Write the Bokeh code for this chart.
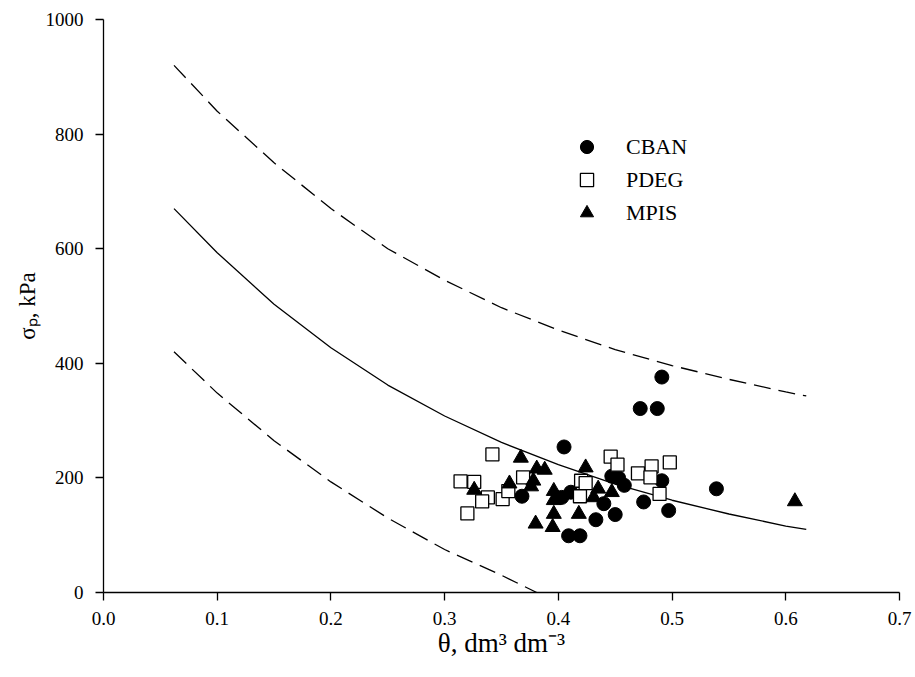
from bokeh.plotting import figure
from bokeh.models import Legend, LegendItem, NumeralTickFormatter, FixedTicker, Range1d
from bokeh.embed import file_html
from bokeh.resources import INLINE

# CBAN (filled circles)
cban_theta = [0.491, 0.472, 0.487, 0.405, 0.447, 0.453, 0.458, 0.491, 0.475, 0.497,
              0.411, 0.403, 0.440, 0.433, 0.450, 0.409, 0.419, 0.539, 0.368]
cban_sigma = [376, 321, 321, 254, 203, 200, 187, 195, 158, 143,
              175, 166, 155, 127, 136, 99, 99, 181, 168]

# PDEG (open squares)
pdeg_theta = [0.342, 0.314, 0.326, 0.338, 0.333, 0.320, 0.351, 0.356, 0.369,
              0.446, 0.452, 0.420, 0.424, 0.419, 0.470, 0.482, 0.481, 0.498, 0.489]
pdeg_sigma = [241, 194, 193, 166, 159, 138, 163, 177, 201,
              237, 223, 195, 191, 168, 208, 220, 201, 227, 172]

# MPIS (filled triangles)
mpis_theta = [0.326, 0.367, 0.357, 0.381, 0.388, 0.378, 0.376, 0.396, 0.396, 0.396,
              0.380, 0.395, 0.424, 0.418, 0.435, 0.431, 0.447, 0.608]
mpis_sigma = [179, 235, 190, 216, 214, 195, 185, 177, 161, 137,
              120, 114, 218, 137, 181, 166, 175, 159]

# fitted curve and bands
fit_theta = [0.062, 0.1, 0.15, 0.2, 0.25, 0.3, 0.35, 0.4, 0.45, 0.5, 0.55, 0.6, 0.618]
fit_sigma = [670, 593, 503, 427, 362, 308, 262, 223, 189, 161, 137, 116, 110]
upper_theta = [0.062, 0.1, 0.15, 0.2, 0.25, 0.3, 0.35, 0.4, 0.45, 0.5, 0.55, 0.6, 0.618]
upper_sigma = [920, 840, 750, 670, 600, 545, 497, 458, 424, 396, 372, 350, 343]
lower_theta = [0.062, 0.1, 0.15, 0.2, 0.25, 0.3, 0.35, 0.381]
lower_sigma = [420, 348, 265, 193, 130, 75, 30, 0]

x_ticks = [0.0, 0.1, 0.2, 0.3, 0.4, 0.5, 0.6, 0.7]
y_ticks = [0, 200, 400, 600, 800, 1000]

FONT = "Liberation Serif"

p = figure(width=915, height=677, output_backend="svg", toolbar_location=None,
           x_range=Range1d(0, 0.7), y_range=Range1d(0, 1000),
           min_border_left=103, min_border_right=16, min_border_top=19, min_border_bottom=85)
p.outline_line_color = None
p.xgrid.visible = False
p.ygrid.visible = False
p.background_fill_color = "white"
p.border_fill_color = "white"

for ax in (p.xaxis[0], p.yaxis[0]):
    ax.axis_line_color = "black"
    ax.axis_line_width = 1.3
    ax.major_tick_line_color = "black"
    ax.major_tick_line_width = 1.3
    ax.major_tick_out = 8
    ax.major_tick_in = 0
    ax.minor_tick_line_color = None
    ax.major_label_text_font = FONT
    ax.major_label_text_font_size = "19px"
    ax.major_label_text_color = "black"
    ax.axis_label_text_font = FONT
    ax.axis_label_text_font_style = "normal"
    ax.axis_label_text_color = "black"

p.xaxis[0].ticker = FixedTicker(ticks=x_ticks)
p.xaxis[0].formatter = NumeralTickFormatter(format="0.0")
p.xaxis[0].major_label_standoff = 11
p.xaxis[0].axis_label = "θ, dm³ dm⁻³"
p.xaxis[0].axis_label_text_font_size = "27px"
p.xaxis[0].axis_label_standoff = 0
p.yaxis[0].ticker = FixedTicker(ticks=y_ticks)
p.yaxis[0].formatter = NumeralTickFormatter(format="0")
p.yaxis[0].major_label_standoff = 12
p.yaxis[0].axis_label = "σₚ, kPa"
p.yaxis[0].axis_label_text_font_size = "23px"
p.yaxis[0].axis_label_standoff = 3

p.line(fit_theta, fit_sigma, line_color="black", line_width=1.3)
p.line(upper_theta, upper_sigma, line_color="black", line_width=1.3, line_dash="17 8")
p.line(lower_theta, lower_sigma, line_color="black", line_width=1.3, line_dash="17 8")

r1 = p.scatter(cban_theta, cban_sigma, marker="circle", size=14,
               fill_color="black", line_color="black")
r2 = p.scatter(pdeg_theta, pdeg_sigma, marker="square", size=13,
               fill_color="white", line_color="black", line_width=1.3)
r3 = p.scatter(mpis_theta, mpis_sigma, marker="triangle", size=15,
               fill_color="black", line_color="black")

legend = Legend(items=[LegendItem(label="CBAN", renderers=[r1]),
                       LegendItem(label="PDEG", renderers=[r2]),
                       LegendItem(label="MPIS", renderers=[r3])],
                location=(466, 363), orientation="vertical")
legend.border_line_color = None
legend.background_fill_alpha = 0
legend.label_text_font = FONT
legend.label_text_font_size = "22px"
legend.label_text_color = "black"
legend.glyph_width = 35
legend.glyph_height = 33
legend.label_height = 33
legend.label_standoff = 22
legend.spacing = 0
legend.padding = 0
legend.margin = 0
p.add_layout(legend, "center")

open("out.html", "w").write(file_html(p, INLINE))
